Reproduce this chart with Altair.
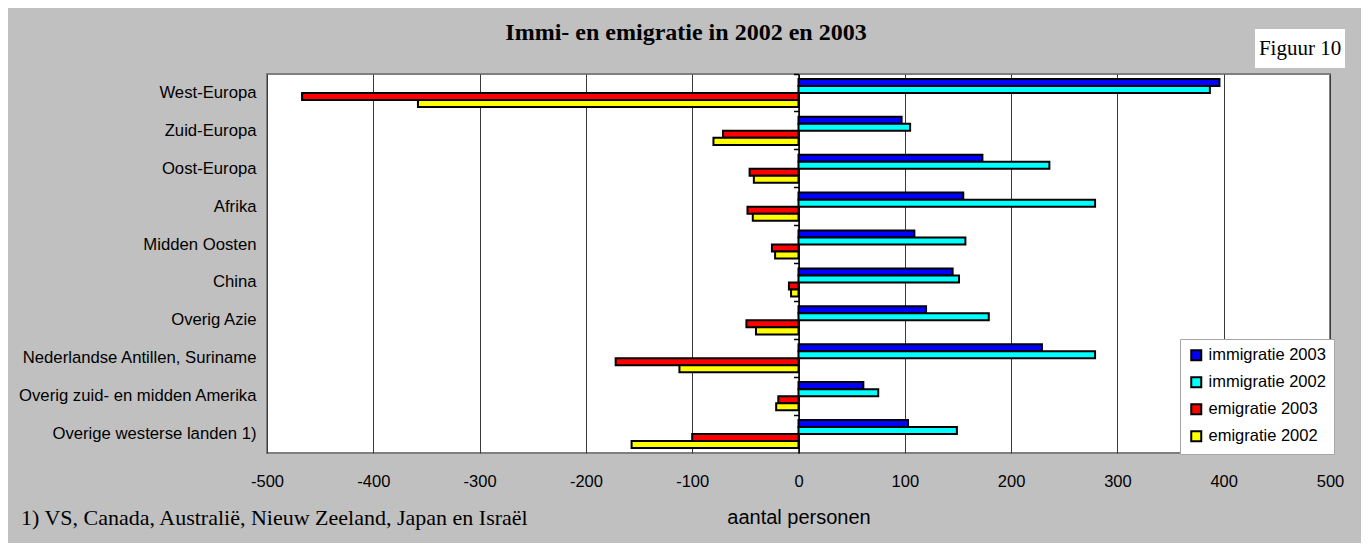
import altair as alt
import pandas as pd

categories = [
    "West-Europa",
    "Zuid-Europa",
    "Oost-Europa",
    "Afrika",
    "Midden Oosten",
    "China",
    "Overig Azie",
    "Nederlandse Antillen, Suriname",
    "Overig zuid- en midden Amerika",
    "Overige westerse landen 1)",
]
series = ["immigratie 2003", "immigratie 2002", "emigratie 2003", "emigratie 2002"]
imm_2003 = [396, 97, 173, 155, 109, 145, 120, 229, 61, 103]
imm_2002 = [387, 105, 236, 279, 157, 151, 179, 279, 75, 149]
emi_2003 = [-467, -71, -46, -48, -25, -9, -49, -172, -19, -100]
emi_2002 = [-358, -80, -42, -43, -22, -7, -40, -112, -21, -157]
colors = ["#0000FF", "#00FFFF", "#FF0000", "#FFFF00"]
x_ticks = [-500, -400, -300, -200, -100, 0, 100, 200, 300, 400, 500]

title_text = "Immi- en emigratie in 2002 en 2003"
fig_text = "Figuur 10"
note_text = "1) VS, Canada, Australië, Nieuw Zeeland, Japan en Israël"

rows = []
for s, vals in zip(series, [imm_2003, imm_2002, emi_2003, emi_2002]):
    for c, v in zip(categories, vals):
        rows.append({"regio": c, "reeks": s, "aantal": v})
df = pd.DataFrame(rows)

W, H = 1063, 379
SANS = "Liberation Sans"
SERIF = "Liberation Serif"

x_axis = alt.Axis(
    values=x_ticks, title="aantal personen", grid=True, gridColor="#3a3a3a",
    gridWidth=1, ticks=False, domain=False, labelFontSize=16.5, labelFont=SANS,
    labelColor="black", labelPadding=20, labelFlush=False, labelExpr="'' + datum.value",
    titleFont=SANS, titleFontSize=20, titleFontWeight="normal", titlePadding=18,
    titleColor="black",
)

bars = alt.Chart(df).mark_bar(stroke="black", strokeWidth=2).encode(
    x=alt.X("aantal:Q", scale=alt.Scale(domain=[-500, 500], nice=False, zero=False), axis=x_axis),
    y=alt.Y(
        "regio:N", sort=categories,
        scale=alt.Scale(paddingInner=0, paddingOuter=0),
        axis=alt.Axis(
            title=None, ticks=False, domain=False, grid=False, labelFontSize=16.7,
            labelFont=SANS, labelColor="black", labelPadding=11, labelLimit=400,
        ),
    ),
    yOffset=alt.YOffset("reeks:N", sort=series, scale=alt.Scale(paddingOuter=0.7, paddingInner=0)),
    color=alt.Color(
        "reeks:N", sort=series,
        scale=alt.Scale(domain=series, range=colors),
        legend=alt.Legend(
            title=None, orient="none", legendX=913, legendY=265, fillColor="white",
            strokeColor="#a6a6a6", padding=8, symbolType="square", symbolSize=100,
            symbolStrokeColor="black", symbolStrokeWidth=2, symbolOpacity=1,
            labelFontSize=16.5, labelFont=SANS, labelColor="black", rowPadding=8,
            labelOffset=4,
        ),
    ),
)

zero_df = pd.DataFrame({"regio": categories, "aantal": [0] * len(categories)})
zero = alt.Chart(zero_df).mark_rule(strokeOpacity=0).encode(
    x=alt.X("aantal:Q", scale=alt.Scale(domain=[-500, 500], nice=False, zero=False), axis=x_axis),
    y=alt.Y(
        "regio:N", sort=categories,
        axis=alt.Axis(
            orient="left", offset=-W / 2, labels=False, ticks=True, tickSize=5,
            tickColor="black", tickWidth=1.5, bandPosition=0, domain=True,
            domainColor="black", domainWidth=1.5, title=None, grid=False,
        ),
    ),
)

title = alt.Chart(pd.DataFrame({"t": [title_text]})).mark_text(
    font=SERIF, fontSize=24, fontWeight="bold", color="black", align="center", baseline="middle"
).encode(text="t:N", x=alt.value(419), y=alt.value(-41))

fig_box = alt.Chart(pd.DataFrame({"t": [fig_text]})).mark_rect(fill="white").encode(
    x=alt.value(988), x2=alt.value(1078), y=alt.value(-45), y2=alt.value(-6)
)
fig_label = alt.Chart(pd.DataFrame({"t": [fig_text]})).mark_text(
    font=SERIF, fontSize=21, color="black", align="center", baseline="middle"
).encode(text="t:N", x=alt.value(1033), y=alt.value(-25))

note = alt.Chart(pd.DataFrame({"t": [note_text]})).mark_text(
    font=SERIF, fontSize=22, color="black", align="left", baseline="middle"
).encode(text="t:N", x=alt.value(-246), y=alt.value(444))

chart = (
    alt.layer(bars, zero, title, fig_box, fig_label, note)
    .resolve_axis(y="independent")
    .properties(
        width=W, height=H,
        autosize=alt.AutoSizeParams(type="none"),
        padding={"left": 259, "top": 66, "right": 31, "bottom": 90},
        background="#C0C0C0",
    )
    .configure_view(stroke="#7f7f7f", strokeWidth=2, fill="white")
)

chart.save("out.html", embed_options={"renderer": "svg", "actions": False})
